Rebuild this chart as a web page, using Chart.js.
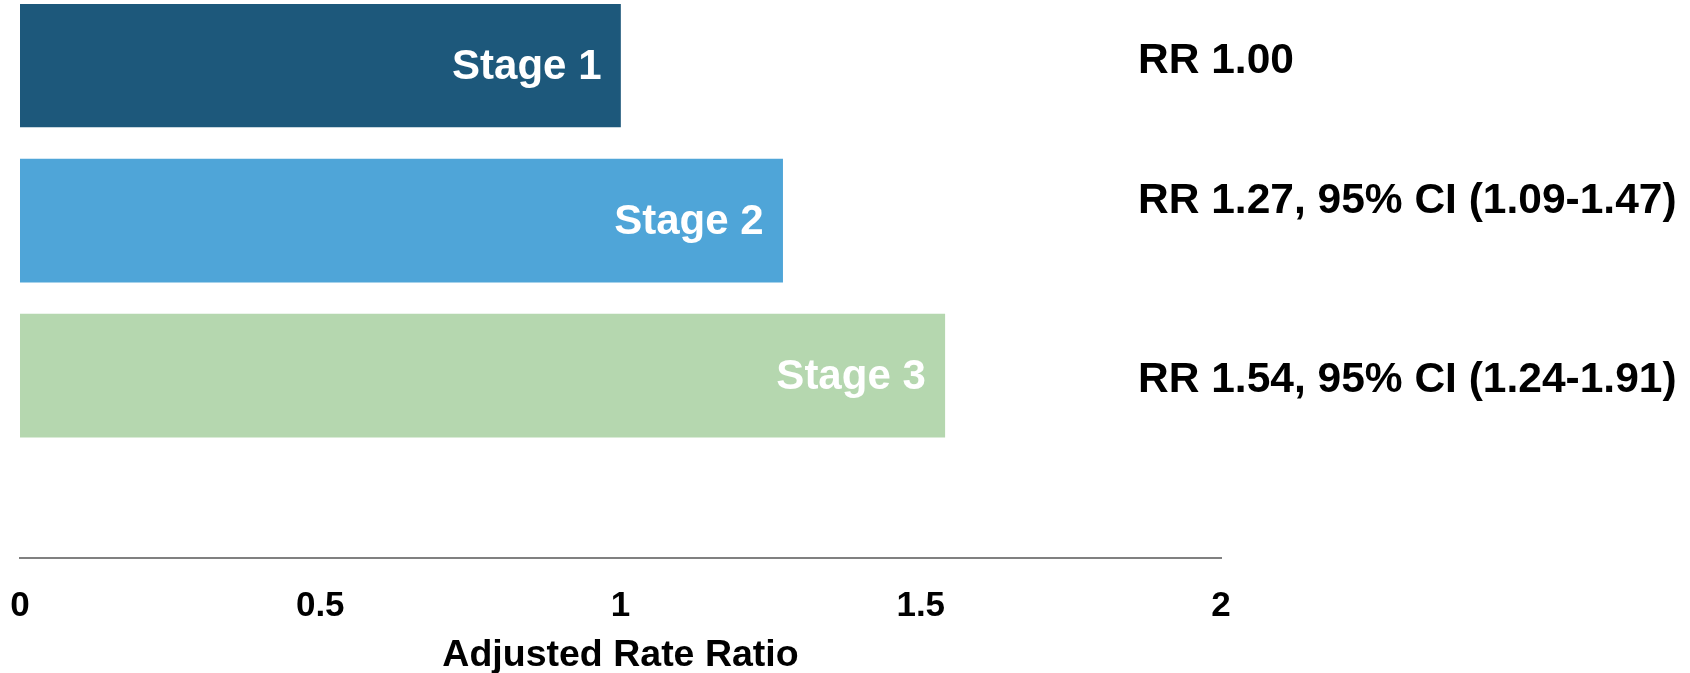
<!DOCTYPE html>
<html>
<head>
  <title>Adjusted Rate Ratio by Stage</title>
  <script src="https://cdn.jsdelivr.net/npm/chart.js"></script>
  <style>
    body {
      margin: 0;
      background: #fff;
    }
    .wrap {
      width: 1690px;
      height: 673px;
    }
  </style>
</head>
<body>
  <div class="wrap">
    <canvas id="rrChart"></canvas>
  </div>

  <script>
    // data
    const stages = ['Stage 1', 'Stage 2', 'Stage 3'];
    const rateRatios = [1.00, 1.27, 1.54];
    const rrNotes = ['RR 1.00', 'RR 1.27, 95% CI (1.09-1.47)', 'RR 1.54, 95% CI (1.24-1.91)'];
    const xTicks = [0, 0.5, 1, 1.5, 2];
    const barColors = ['#1D587B', '#4FA5D8', '#B5D7AF'];

    const FONT = "'Liberation Sans', Arial, sans-serif";

    // draws the stage names inside the bars and the RR notes on the right
    const labelPlugin = {
      id: 'barLabels',
      afterDatasetsDraw(chart) {
        const ctx = chart.ctx;
        const meta = chart.getDatasetMeta(0);
        const noteShift = [-6, -21, 3]; // notes are not exactly centred on bars
        ctx.save();
        meta.data.forEach((bar, i) => {
          ctx.font = 'bold 42px ' + FONT;
          ctx.fillStyle = '#fff';
          ctx.textAlign = 'right';
          ctx.textBaseline = 'middle';
          ctx.fillText(stages[i], bar.x - 19, bar.y + 2);

          ctx.font = 'bold 42.5px ' + FONT;
          ctx.fillStyle = '#000';
          ctx.textAlign = 'left';
          ctx.fillText(rrNotes[i], 1138, bar.y + noteShift[i] + 2);
        });
        ctx.restore();
      }
    };

    const ctx = document.getElementById('rrChart').getContext('2d');

    const rrChart = new Chart(ctx, {
      type: 'bar',
      data: {
        datasets: [{
          data: rateRatios.map((v, i) => ({ x: v, y: i })),
          backgroundColor: barColors,
          borderWidth: 0,
          barThickness: 123
        }]
      },
      options: {
        indexAxis: 'y',
        responsive: true,
        maintainAspectRatio: false,
        animation: false,
        layout: {
          padding: { left: 20, right: 469, top: 4, bottom: 0 }
        },
        plugins: {
          legend: { display: false },
          tooltip: { enabled: false }
        },
        scales: {
          x: {
            type: 'linear',
            min: 0,
            max: 2,
            offset: false,
            afterBuildTicks: (scale) => {
              scale.ticks = xTicks.map(v => ({ value: v }));
            },
            afterFit: (scale) => {
              scale.height = 115;
              // let layout.padding decide the side margins
              scale.paddingLeft = 0;
              scale.paddingRight = 0;
            },
            grid: { display: false, drawTicks: false },
            border: { display: true, color: '#808080', width: 2 },
            ticks: {
              color: '#000',
              padding: 27,
              font: { family: FONT, size: 35, weight: 'bold' },
              maxRotation: 0,
              callback: (v) => String(v)
            },
            title: {
              display: true,
              text: 'Adjusted Rate Ratio',
              color: '#000',
              font: { family: FONT, size: 37.5, weight: 'bold' },
              padding: { top: 3, bottom: -5 }
            }
          },
          y: {
            type: 'linear',
            reverse: true,
            offset: false,
            min: -0.397,
            max: 3.177,
            display: false
          }
        }
      },
      plugins: [labelPlugin]
    });
  </script>
</body>
</html>
